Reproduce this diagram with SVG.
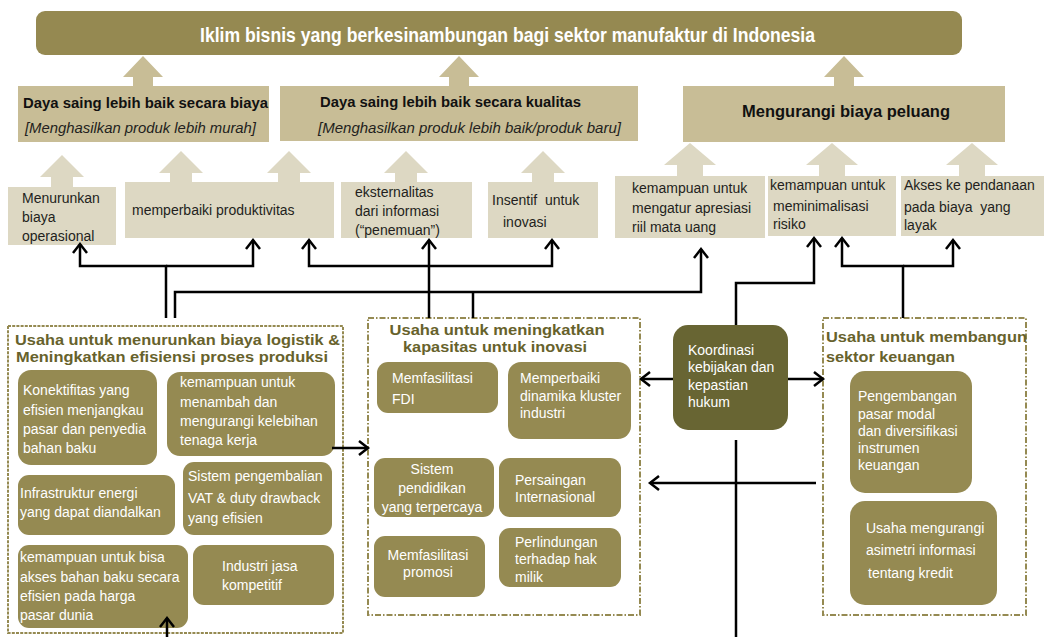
<svg xmlns="http://www.w3.org/2000/svg" width="1044" height="637" viewBox="0 0 1044 637">
<defs>
<style>
.t{font-family:"Liberation Sans",Arial,sans-serif;font-size:14px;fill:#231f20}
.w{font-family:"Liberation Sans",Arial,sans-serif;font-size:14px;fill:#ffffff}
.hb{font-family:"Liberation Sans",Arial,sans-serif;font-weight:bold;fill:#111}
.hi{font-family:"Liberation Sans",Arial,sans-serif;font-style:italic;font-size:14px;fill:#231f20}
.st{font-family:"Liberation Sans",Arial,sans-serif;font-weight:bold;font-size:15px;fill:#67622c}
.l2{fill:#c8bd96}
.l3{fill:#ddd8c3}
.ib{fill:#958a52}
.sec{fill:none;stroke:#958a52;stroke-width:2}
.c{fill:none;stroke:#000;stroke-width:2.5}
</style>
<marker id="ah" markerUnits="userSpaceOnUse" markerWidth="20" markerHeight="20" viewBox="-12 -10 14 20" refX="0" refY="0" orient="auto" overflow="visible">
<path d="M-9,-7 L0,0 L-9,7" fill="none" stroke="#000" stroke-width="2.5"/>
</marker>
</defs>

<g id="title">
<rect x="36" y="11" width="926" height="44" rx="9" fill="#958951"/>
<text x="200" y="42" font-family="'Liberation Sans Narrow','Liberation Sans',Arial,sans-serif" font-weight="bold" font-size="20" fill="#fff" textLength="615" lengthAdjust="spacingAndGlyphs">Iklim bisnis yang berkesinambungan bagi sektor manufaktur di Indonesia</text>
</g>

<g id="big-arrows">
<polygon class="l2" points="143,56 163,77 153,77 153,86 133,86 133,77 123,77"/>
<polygon class="l2" points="459,56 479,77 469,77 469,86 449,86 449,77 439,77"/>
<polygon class="l2" points="844,56 864,77 854,77 854,86 834,86 834,77 824,77"/>
<polygon class="l3" points="62,155 84,177 73,177 73,187 51,187 51,177 40,177"/>
<polygon class="l3" points="181,151 203,173 192,173 192,182 170,182 170,173 159,173"/>
<polygon class="l3" points="289,151 311,173 300,173 300,182 278,182 278,173 267,173"/>
<polygon class="l3" points="406,151 428,173 417,173 417,182 395,182 395,173 384,173"/>
<polygon class="l3" points="543,151 565,173 554,173 554,182 532,182 532,173 521,173"/>
<polygon class="l3" points="690,143 716,165 703,165 703,176 677,176 677,165 664,165"/>
<polygon class="l3" points="832,143 858,165 845,165 845,176 819,176 819,165 806,165"/>
<polygon class="l3" points="972,143 998,165 985,165 985,176 959,176 959,165 946,165"/>
</g>

<g id="biaya">
<rect class="l2" x="18" y="86" width="251" height="56"/>
<text class="hb" x="23" y="108" font-size="14" textLength="245" lengthAdjust="spacingAndGlyphs">Daya saing lebih baik secara biaya</text>
<text class="hi" x="25" y="133" textLength="231" lengthAdjust="spacingAndGlyphs">[Menghasilkan produk lebih murah]</text>
</g>
<g id="kualitas">
<rect class="l2" x="280" y="86" width="358" height="55"/>
<text class="hb" x="320" y="107" font-size="14" textLength="261" lengthAdjust="spacingAndGlyphs">Daya saing lebih baik secara kualitas</text>
<text class="hi" x="318" y="133" textLength="303" lengthAdjust="spacingAndGlyphs">[Menghasilkan produk lebih baik/produk baru]</text>
</g>
<g id="peluang">
<rect class="l2" x="683" y="86" width="322" height="56"/>
<text class="hb" x="742" y="117" font-size="16" textLength="208" lengthAdjust="spacingAndGlyphs">Mengurangi biaya peluang</text>
</g>

<g id="menurunkan">
<rect class="l3" x="8" y="187" width="108" height="58"/>
<text class="t" x="22" y="203">Menurunkan</text>
<text class="t" x="22" y="222">biaya</text>
<text class="t" x="22" y="241">operasional</text>
</g>
<g id="produktivitas">
<rect class="l3" x="125" y="182" width="209" height="56"/>
<text class="t" x="132" y="215" font-size="15">memperbaiki produktivitas</text>
</g>
<g id="eksternalitas">
<rect class="l3" x="341" y="182" width="131" height="56"/>
<text class="t" x="355" y="197">eksternalitas</text>
<text class="t" x="355" y="216">dari informasi</text>
<text class="t" x="355" y="235">(“penemuan”)</text>
</g>
<g id="insentif">
<rect class="l3" x="488" y="182" width="110" height="56"/>
<text class="t" x="492" y="205" xml:space="preserve">Insentif  untuk</text>
<text class="t" x="503" y="227">inovasi</text>
</g>
<g id="apresiasi">
<rect class="l3" x="615" y="176" width="150" height="62"/>
<text class="t" x="632" y="193">kemampuan untuk</text>
<text class="t" x="632" y="213">mengatur apresiasi</text>
<text class="t" x="632" y="232">riil mata uang</text>
</g>
<g id="risiko">
<rect class="l3" x="768" y="176" width="128" height="60"/>
<text class="t" x="770" y="190">kemampuan untuk</text>
<text class="t" x="773" y="211">meminimalisasi</text>
<text class="t" x="773" y="229">risiko</text>
</g>
<g id="akses">
<rect class="l3" x="901" y="176" width="143" height="60"/>
<text class="t" x="904" y="190">Akses ke pendanaan</text>
<text class="t" x="904" y="212" xml:space="preserve">pada biaya  yang</text>
<text class="t" x="904" y="230">layak</text>
</g>

<g id="logistik">
<rect class="sec" x="8" y="326" width="335" height="307" stroke-dasharray="3 1.2"/>
<text class="st" x="15" y="345" textLength="325" lengthAdjust="spacingAndGlyphs">Usaha untuk menurunkan biaya logistik &amp;</text>
<text class="st" x="16" y="362" textLength="312" lengthAdjust="spacingAndGlyphs">Meningkatkan efisiensi proses produksi</text>
<rect class="ib" x="18" y="370" width="139" height="95" rx="13"/>
<text class="w" x="23" y="395">Konektifitas yang</text>
<text class="w" x="23" y="415">efisien menjangkau</text>
<text class="w" x="23" y="434">pasar dan penyedia</text>
<text class="w" x="23" y="453">bahan baku</text>
<rect class="ib" x="167" y="372" width="168" height="84" rx="13"/>
<text class="w" x="180" y="387">kemampuan untuk</text>
<text class="w" x="180" y="407">menambah dan</text>
<text class="w" x="180" y="426">mengurangi kelebihan</text>
<text class="w" x="180" y="445">tenaga kerja</text>
<rect class="ib" x="18" y="475" width="157" height="60" rx="11"/>
<text class="w" x="20" y="498">Infrastruktur energi</text>
<text class="w" x="20" y="517">yang dapat diandalkan</text>
<rect class="ib" x="183" y="462" width="149" height="73" rx="11"/>
<text class="w" x="188" y="481">Sistem pengembalian</text>
<text class="w" x="188" y="503">VAT &amp; duty drawback</text>
<text class="w" x="188" y="523">yang efisien</text>
<rect class="ib" x="18" y="545" width="170" height="83" rx="11"/>
<text class="w" x="20" y="562">kemampuan untuk bisa</text>
<text class="w" x="20" y="582">akses bahan baku secara</text>
<text class="w" x="20" y="601">efisien pada harga</text>
<text class="w" x="20" y="620">pasar dunia</text>
<rect class="ib" x="193" y="545" width="141" height="60" rx="11"/>
<text class="w" x="222" y="571">Industri jasa</text>
<text class="w" x="222" y="590">kompetitif</text>
</g>

<g id="inovasi">
<rect class="sec" x="368" y="318" width="272" height="297" stroke-dasharray="6 2 1.5 2"/>
<text class="st" x="497" y="335" text-anchor="middle" font-size="14" textLength="215" lengthAdjust="spacingAndGlyphs">Usaha untuk meningkatkan</text>
<text class="st" x="495" y="352" text-anchor="middle" font-size="14" textLength="184" lengthAdjust="spacingAndGlyphs">kapasitas untuk inovasi</text>
<rect class="ib" x="377" y="362" width="121" height="51" rx="11"/>
<text class="w" x="392" y="383">Memfasilitasi</text>
<text class="w" x="392" y="404">FDI</text>
<rect class="ib" x="508" y="362" width="123" height="77" rx="13"/>
<text class="w" x="520" y="383">Memperbaiki</text>
<text class="w" x="520" y="401">dinamika kluster</text>
<text class="w" x="520" y="418">industri</text>
<rect class="ib" x="374" y="458" width="120" height="59" rx="11"/>
<text class="w" x="432" y="474" text-anchor="middle">Sistem</text>
<text class="w" x="432" y="493" text-anchor="middle">pendidikan</text>
<text class="w" x="432" y="512" text-anchor="middle">yang terpercaya</text>
<rect class="ib" x="499" y="458" width="122" height="59" rx="11"/>
<text class="w" x="515" y="485">Persaingan</text>
<text class="w" x="515" y="502">Internasional</text>
<rect class="ib" x="374" y="536" width="111" height="61" rx="11"/>
<text class="w" x="428" y="560" text-anchor="middle">Memfasilitasi</text>
<text class="w" x="428" y="577" text-anchor="middle">promosi</text>
<rect class="ib" x="499" y="528" width="122" height="59" rx="11"/>
<text class="w" x="515" y="547">Perlindungan</text>
<text class="w" x="515" y="564">terhadap hak</text>
<text class="w" x="515" y="582">milik</text>
</g>

<g id="koordinasi">
<rect x="673" y="325" width="115" height="105" rx="15" fill="#686533"/>
<text class="w" x="688" y="355">Koordinasi</text>
<text class="w" x="688" y="372">kebijakan dan</text>
<text class="w" x="688" y="390">kepastian</text>
<text class="w" x="688" y="407">hukum</text>
</g>

<g id="keuangan">
<rect class="sec" x="823" y="318" width="203" height="297" stroke-dasharray="6 2 1.5 2"/>
<text class="st" x="826" y="342" textLength="201" lengthAdjust="spacingAndGlyphs">Usaha untuk membangun</text>
<text class="st" x="826" y="362" textLength="129" lengthAdjust="spacingAndGlyphs">sektor keuangan</text>
<rect class="ib" x="850" y="371" width="122" height="122" rx="15"/>
<text class="w" x="858" y="401">Pengembangan</text>
<text class="w" x="858" y="419">pasar modal</text>
<text class="w" x="858" y="436">dan diversifikasi</text>
<text class="w" x="858" y="453">instrumen</text>
<text class="w" x="858" y="470">keuangan</text>
<rect class="ib" x="850" y="501" width="147" height="104" rx="15"/>
<text class="w" x="866" y="533">Usaha mengurangi</text>
<text class="w" x="866" y="555">asimetri informasi</text>
<text class="w" x="868" y="578">tentang kredit</text>
</g>

<g id="connectors">
<path class="c" d="M166,318 V266 H80 V244" marker-end="url(#ah)"/>
<path class="c" d="M166,266 H253 V240" marker-end="url(#ah)"/>
<path class="c" d="M175,318 V292 H701 V249" marker-end="url(#ah)"/>
<path class="c" d="M473,318 V292"/>
<path class="c" d="M429,318 V240" marker-end="url(#ah)"/>
<path class="c" d="M429,266 H309 V240" marker-end="url(#ah)"/>
<path class="c" d="M429,266 H552 V240" marker-end="url(#ah)"/>
<path class="c" d="M736,325 V283 H814 V238" marker-end="url(#ah)"/>
<path class="c" d="M903,318 V266 H842 V238" marker-end="url(#ah)"/>
<path class="c" d="M903,266 H953 V240" marker-end="url(#ah)"/>
<path class="c" d="M332,448 H368" marker-end="url(#ah)"/>
<path class="c" d="M673,379 H641" marker-end="url(#ah)"/>
<path class="c" d="M788,379 H823" marker-end="url(#ah)"/>
<path class="c" d="M736,440 V637"/>
<path class="c" d="M816,483 H650" marker-end="url(#ah)"/>
<path class="c" d="M167,637 V618" marker-end="url(#ah)"/>
</g>
</svg>
